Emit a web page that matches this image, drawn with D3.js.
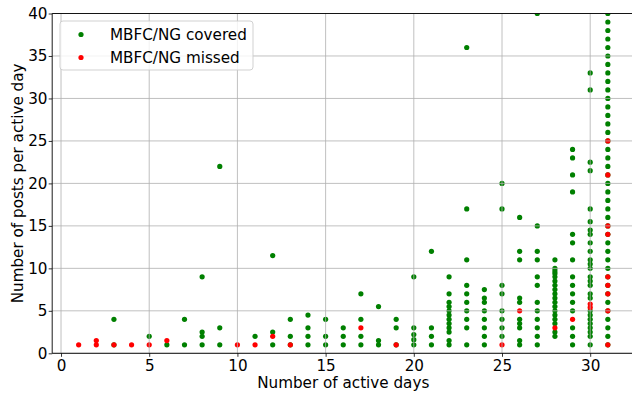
<!DOCTYPE html>
<html>
<head>
<meta charset="utf-8">
<script src="https://cdn.jsdelivr.net/npm/d3@7"></script>
<style>
  body { margin: 0; background: #fff; }
  svg { display: block; font-family: "DejaVu Sans", sans-serif; }
</style>
</head>
<body>
<svg id="chart" width="632" height="398"></svg>
<script>
// active days (x) and posts per active day for each day, by series
var days = [1, 2, 3, 4, 5, 6, 7, 8, 9, 10, 11, 12, 13, 14, 15, 16, 17, 18, 19, 20, 21, 22, 23, 24, 25, 26, 27, 28, 29, 30, 31];

var coveredPosts = [
  [],
  [],
  [4, 1],
  [],
  [2],
  [1],
  [4, 1],
  [9, 2.5, 2, 1],
  [22, 3, 1],
  [],
  [2],
  [11.5, 2.5, 1],
  [4, 2, 1],
  [4.5, 3, 2, 1],
  [4, 2, 1],
  [3, 2, 1],
  [7, 4, 2, 1],
  [5.5, 1.5, 1],
  [4, 3, 1],
  [9, 3, 2.2, 1.6, 1],
  [12, 3, 2, 1],
  [9, 7, 6, 5.5, 5, 4.5, 4, 3.5, 3, 2.5, 1.5, 1],
  [36, 17, 11, 8, 7, 6, 5, 4, 3, 1],
  [7.5, 6.5, 6, 5, 4, 3, 2, 1],
  [20, 17, 8, 7, 5, 4, 3, 2],
  [16, 12, 11, 6.5, 6, 4, 3.5, 3, 1.5, 1],
  [40, 15, 12, 11, 9, 8, 6, 5, 4, 3, 2, 1],
  [11, 10, 9.7, 9.4, 9, 8.5, 8, 7.5, 7, 6.5, 6, 5.5, 5, 4.5, 4, 3.5, 2.5, 2],
  [24, 23, 21, 19, 14, 13, 11, 9, 8, 7, 6, 5, 3, 2, 1],
  [33, 31, 22.5, 21.5, 17, 15.5, 14.5, 14, 13, 12, 11, 10.5, 10, 9, 8.5, 8, 7, 6.5, 5, 4.5, 4, 3.5, 3, 2.5, 2, 1],
  [40, 39, 38, 37, 36, 35, 34, 33, 32, 31, 30, 29, 28, 27, 26, 25, 24, 23, 22, 21, 20, 19, 18, 17, 16, 15, 14, 13, 12, 11, 10, 9, 8, 7, 6, 5, 4, 3, 2, 1]
];

var missedPosts = [
  [1],
  [1.5, 1],
  [1],
  [1],
  [1],
  [1.5],
  [],
  [],
  [],
  [1],
  [1],
  [2],
  [1],
  [],
  [],
  [],
  [3],
  [],
  [1],
  [],
  [],
  [],
  [],
  [],
  [1],
  [5],
  [],
  [3],
  [4],
  [5.8, 5.4],
  [25, 21, 15, 14, 9, 8, 7, 5, 1]
];

var seriesNames = ["MBFC/NG covered", "MBFC/NG missed"];
var seriesColors = ["#008000", "#ff0000"];
var xTicks = [0, 5, 10, 15, 20, 25, 30];
var yTicks = [0, 5, 10, 15, 20, 25, 30, 35, 40];

var margin = {top: 13.5, left: 52.2};
var width = 582.1;
var height = 339.8;
var fontSize = 15.2;

var svg = d3.select("#chart");

var x = d3.scaleLinear().domain([-0.5, 32.5]).range([0, width]);
var y = d3.scaleLinear().domain([0, 40]).range([height, 0]);

var g = svg.append("g")
  .attr("transform", "translate(" + margin.left + "," + margin.top + ")");

svg.append("defs").append("clipPath").attr("id", "plotclip")
  .append("rect").attr("x", 0).attr("y", 0).attr("width", width).attr("height", height);

function toPoints(arr) {
  var pts = [];
  days.forEach(function (d, i) {
    arr[i].forEach(function (v) { pts.push({day: d, value: v}); });
  });
  return pts;
}

var pointsLayer = g.append("g").attr("clip-path", "url(#plotclip)");
[coveredPosts, missedPosts].forEach(function (arr, k) {
  pointsLayer.selectAll("circle.s" + k)
    .data(toPoints(arr))
    .enter().append("circle")
    .attr("class", "s" + k)
    .attr("cx", function (d) { return x(d.day); })
    .attr("cy", function (d) { return y(d.value); })
    .attr("r", 2.6)
    .attr("fill", seriesColors[k]);
});

// grid sits above the markers in the original
var grid = g.append("g").attr("stroke", "#b0b0b0").attr("stroke-width", 0.8);
xTicks.forEach(function (t) {
  grid.append("line").attr("x1", x(t)).attr("x2", x(t)).attr("y1", 0).attr("y2", height);
});
yTicks.forEach(function (t) {
  grid.append("line").attr("x1", 0).attr("x2", width).attr("y1", y(t)).attr("y2", y(t));
});

var xAxis = d3.axisBottom(x).tickValues(xTicks).tickSize(3.5).tickPadding(3.2).tickSizeOuter(0);
var yAxis = d3.axisLeft(y).tickValues(yTicks).tickSize(3.5).tickPadding(1.2).tickSizeOuter(0);

var xg = g.append("g").attr("transform", "translate(0," + height + ")").call(xAxis);
var yg = g.append("g").call(yAxis);
[xg, yg].forEach(function (ax) {
  ax.select(".domain").remove();
  ax.selectAll("line").attr("stroke", "#000").attr("stroke-width", 0.8);
  ax.selectAll("text").attr("fill", "#000").style("font-size", fontSize + "px")
    .style("font-family", "'DejaVu Sans', sans-serif");
});

// spines
var spines = g.append("g").attr("stroke", "#000").attr("stroke-width", 0.9).attr("fill", "none");
spines.append("line").attr("x1", 0).attr("x2", 0).attr("y1", 0).attr("y2", height);
spines.append("line").attr("x1", 0).attr("x2", width).attr("y1", height).attr("y2", height);
spines.append("line").attr("x1", 0).attr("x2", width).attr("y1", 0).attr("y2", 0);
spines.append("line").attr("x1", width).attr("x2", width).attr("y1", 0).attr("y2", height);

svg.append("text")
  .attr("x", margin.left + x(16))
  .attr("y", 388.3)
  .attr("text-anchor", "middle")
  .style("font-size", fontSize + "px")
  .text("Number of active days");

svg.append("text")
  .attr("transform", "translate(23," + (margin.top + height / 2) + ") rotate(-90)")
  .attr("text-anchor", "middle")
  .style("font-size", fontSize + "px")
  .text("Number of posts per active day");

// legend
var legend = svg.append("g").attr("transform", "translate(60,21)");
legend.append("rect")
  .attr("width", 193).attr("height", 49).attr("rx", 3)
  .attr("fill", "#fff").attr("fill-opacity", 0.8)
  .attr("stroke", "#cccccc").attr("stroke-width", 0.9);
seriesNames.forEach(function (name, i) {
  legend.append("circle")
    .attr("cx", 21).attr("cy", 13.5 + i * 23)
    .attr("r", 2.6).attr("fill", seriesColors[i]);
  legend.append("text")
    .attr("x", 50).attr("y", 13.5 + i * 23 + 5.5)
    .style("font-size", fontSize + "px")
    .text(name);
});
</script>
</body>
</html>
